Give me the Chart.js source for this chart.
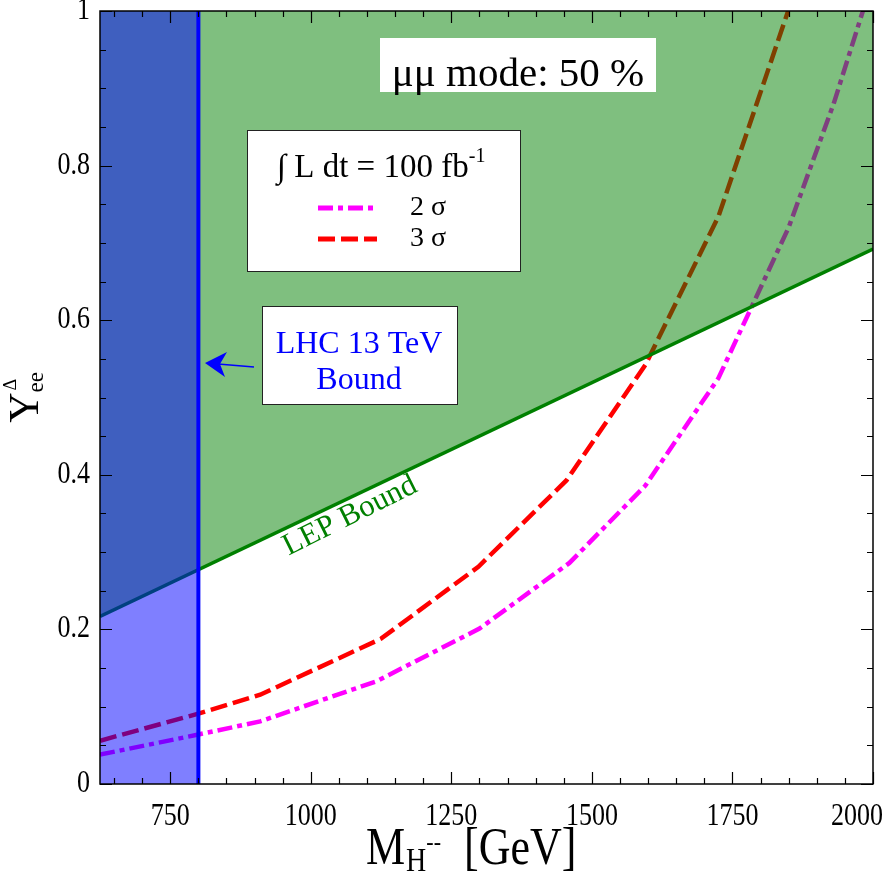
<!DOCTYPE html>
<html><head><meta charset="utf-8">
<script src="https://cdn.jsdelivr.net/npm/chart.js@4.4.1/dist/chart.umd.min.js"></script>
<style>html,body{margin:0;padding:0;background:#fff}</style>
</head><body>
<canvas id="c" width="886" height="886"></canvas>
<script>
// ---------- data ----------
const xMin = 625, xMax = 2000, yMin = 0, yMax = 1;
const xTickValues = [750, 1000, 1250, 1500, 1750, 2000];
const xTickLabels = ['750', '1000', '1250', '1500', '1750', '2000'];
const yTickValues = [0, 0.2, 0.4, 0.6, 0.8, 1];
const yTickLabels = ['0', '0.2', '0.4', '0.6', '0.8', '1'];

const mass3sigma = [625, 800, 910, 1125, 1298, 1455, 1595, 1725, 1849];
const yee3sigma  = [0.056, 0.091, 0.1155, 0.188, 0.281, 0.393, 0.542, 0.734, 1.0];

const mass2sigma = [625, 800, 910, 1117, 1300, 1460, 1595, 1725, 1850, 1930, 1982];
const yee2sigma  = [0.038, 0.064, 0.081, 0.133, 0.201, 0.286, 0.386, 0.525, 0.72, 0.88, 1.0];

const lepMass = [625, 2000];
const lepYee  = [0.2168, 0.692];

const lhcBoundMass = 800;
const lhcRegionMass = [625, 800];
const lhcRegionTop  = [1, 1];

const FONT = "'Liberation Serif','Times New Roman',serif";
const STRETCH = 1.18;

function pts(xs, ys) { return xs.map((x, i) => ({ x: x, y: ys[i] })); }

const ds3 = { label: '3 σ', data: pts(mass3sigma, yee3sigma), borderColor: '#ff0000', borderWidth: 4.5,
  borderDash: [17, 6], fill: false, order: 5 };
const ds2 = { label: '2 σ', data: pts(mass2sigma, yee2sigma), borderColor: '#ff00ff', borderWidth: 4.5,
  borderDash: [15, 5, 5, 5], fill: false, order: 6 };
const dsLep = { label: 'LEP', data: pts(lepMass, lepYee), borderColor: '#008000', borderWidth: 3.5,
  backgroundColor: 'rgba(0,128,0,0.5)', fill: 'end', order: 3 };
const dsLhcRegion = { label: 'LHC region', data: pts(lhcRegionMass, lhcRegionTop), borderWidth: 0,
  borderColor: 'rgba(0,0,0,0)', backgroundColor: 'rgba(0,0,255,0.5)', fill: 'origin', order: 2 };
const dsLhc = { label: 'LHC', data: pts([lhcBoundMass, lhcBoundMass], [yMin, yMax]), borderColor: '#0000ff',
  borderWidth: 4, fill: false, order: 1 };

// ---------- drawing helpers ----------
function stretchedText(ctx, txt, x, y, sy) {
  ctx.save(); ctx.translate(x, y); ctx.scale(1, sy); ctx.fillText(txt, 0, 0); ctx.restore();
}
function drawXTitle(ctx, startX, base) {
  const big = 44, sub = 28, sup = 22;
  ctx.save();
  ctx.translate(startX, base); ctx.scale(1, STRETCH);
  ctx.textBaseline = 'alphabetic'; ctx.textAlign = 'left'; ctx.fillStyle = '#000';
  let x = 0;
  ctx.font = big + 'px ' + FONT; ctx.fillText('M', x, 0); x += ctx.measureText('M').width + 1;
  ctx.font = sub + 'px ' + FONT; ctx.fillText('H', x, 6); x += ctx.measureText('H').width;
  ctx.font = sup + 'px ' + FONT; ctx.fillText('--', x, -12); x += ctx.measureText('--').width + 12;
  ctx.font = big + 'px ' + FONT; ctx.fillText(' [GeV]', x, 0);
  ctx.restore();
}
function drawYTitle(ctx, bx, cy) {
  const big = 42, sub = 23, sup = 18;
  ctx.save();
  ctx.translate(bx, cy); ctx.rotate(-Math.PI / 2);
  ctx.textBaseline = 'alphabetic'; ctx.textAlign = 'left'; ctx.fillStyle = '#000';
  ctx.font = big + 'px ' + FONT; const wY = ctx.measureText('Y').width;
  ctx.font = sub + 'px ' + FONT; const wE = ctx.measureText('ee').width;
  let x = -(wY + wE) / 2;
  ctx.font = big + 'px ' + FONT; ctx.fillText('Y', x, 0); x += wY;
  ctx.font = sub + 'px ' + FONT; ctx.fillText('ee', x, 5);
  ctx.font = sup + 'px ' + FONT; ctx.fillText('Δ', x + 2, -22);
  ctx.restore();
}

const decor = {
  id: 'decor',
  beforeDraw(chart) {
    const ctx = chart.ctx; ctx.save(); ctx.fillStyle = '#fff';
    ctx.fillRect(0, 0, chart.width, chart.height); ctx.restore();
  },
  afterDraw(chart) {
    const ctx = chart.ctx, a = chart.chartArea;
    const xs = chart.scales.x, ys = chart.scales.y;
    ctx.save();
    // ticks on all four sides (inward)
    ctx.strokeStyle = '#000'; ctx.lineWidth = 1.2;
    ctx.beginPath();
    for (let v = 650; v <= xMax; v += 50) {
      const px = Math.round(xs.getPixelForValue(v)) + 0.5;
      const len = (v % 250 === 0) ? 12 : 6;
      ctx.moveTo(px, a.bottom); ctx.lineTo(px, a.bottom - len);
      ctx.moveTo(px, a.top); ctx.lineTo(px, a.top + len);
    }
    for (let i = 0; i <= 20; i++) {
      const py = Math.round(ys.getPixelForValue(i * 0.05)) + 0.5;
      const len = (i % 4 === 0) ? 12 : 6;
      ctx.moveTo(a.left, py); ctx.lineTo(a.left + len, py);
      ctx.moveTo(a.right, py); ctx.lineTo(a.right - len, py);
    }
    ctx.stroke();
    ctx.lineWidth = 1.5;
    ctx.strokeRect(a.left, a.top, a.right - a.left, a.bottom - a.top);

    // tick labels
    ctx.fillStyle = '#000';
    ctx.font = '26px ' + FONT;
    ctx.textAlign = 'right'; ctx.textBaseline = 'middle';
    yTickValues.forEach((v, i) => stretchedText(ctx, yTickLabels[i], a.left - 10, ys.getPixelForValue(v), STRETCH));
    ctx.textAlign = 'center'; ctx.textBaseline = 'alphabetic';
    xTickValues.forEach((v, i) => {
      const w = ctx.measureText(xTickLabels[i]).width;
      let px = xs.getPixelForValue(v);
      px = Math.min(px, chart.width - 3 - w / 2);
      stretchedText(ctx, xTickLabels[i], px, a.bottom + 41, STRETCH);
    });

    // axis titles
    drawXTitle(ctx, 366, 864);
    drawYTitle(ctx, 38, (a.top + a.bottom) / 2);

    // "mu mu mode" box
    ctx.fillStyle = '#fff'; ctx.fillRect(380, 38, 276, 54);
    ctx.fillStyle = '#000'; ctx.font = '41px ' + FONT;
    ctx.textAlign = 'center'; ctx.textBaseline = 'alphabetic';
    ctx.fillText('μμ mode: 50 %', 518, 86);

    // legend box
    ctx.fillStyle = '#fff'; ctx.fillRect(247.5, 130.5, 273, 141);
    ctx.strokeStyle = '#222'; ctx.lineWidth = 1; ctx.strokeRect(247.5, 130.5, 273, 141);
    ctx.fillStyle = '#000'; ctx.textAlign = 'left';
    ctx.font = '33px ' + FONT;
    let lx = 277;
    ctx.fillText('∫', lx, 177); lx += ctx.measureText('∫').width;
    const s1 = ' L dt = 100 fb';
    ctx.fillText(s1, lx, 177); lx += ctx.measureText(s1).width;
    ctx.font = '20px ' + FONT; ctx.fillText('-1', lx, 162);
    [[ds2, 208], [ds3, 239]].forEach(([d, y]) => {
      ctx.save();
      ctx.strokeStyle = d.borderColor; ctx.lineWidth = 5; ctx.setLineDash(d.borderDash);
      ctx.beginPath(); ctx.moveTo(318, y); ctx.lineTo(377, y); ctx.stroke();
      ctx.restore();
      ctx.fillStyle = '#000'; ctx.font = '28px ' + FONT; ctx.textBaseline = 'middle';
      ctx.fillText(d.label, 410, y);
    });

    // LHC box + arrow
    ctx.fillStyle = '#fff'; ctx.fillRect(262.5, 306.5, 195, 98);
    ctx.strokeStyle = '#222'; ctx.lineWidth = 1; ctx.strokeRect(262.5, 306.5, 195, 98);
    ctx.fillStyle = '#0000ff'; ctx.font = '32px ' + FONT;
    ctx.textAlign = 'center'; ctx.textBaseline = 'alphabetic';
    ctx.fillText('LHC 13 TeV', 359, 353);
    ctx.fillText('Bound', 359, 389);
    ctx.strokeStyle = '#0000ff'; ctx.lineWidth = 1.3;
    ctx.beginPath(); ctx.moveTo(254, 367); ctx.lineTo(218, 364); ctx.stroke();
    ctx.beginPath();
    ctx.moveTo(205, 363); ctx.lineTo(227, 352); ctx.lineTo(220, 364); ctx.lineTo(225, 377); ctx.closePath();
    ctx.fill();

    // LEP Bound label
    ctx.save();
    ctx.translate(350, 516); ctx.rotate(-26.5 * Math.PI / 180);
    ctx.fillStyle = '#008000'; ctx.font = '31px ' + FONT;
    ctx.textAlign = 'center'; ctx.textBaseline = 'middle';
    ctx.fillText('LEP Bound', 0, 0);
    ctx.restore();

    ctx.restore();
  }
};

new Chart(document.getElementById('c'), {
  type: 'line',
  data: { datasets: [ds3, ds2, dsLep, dsLhcRegion, dsLhc] },
  options: {
    responsive: false, animation: false, devicePixelRatio: 1,
    layout: { padding: { top: 11, right: 13, left: 0, bottom: 0 } },
    elements: { point: { radius: 0, hoverRadius: 0 }, line: { tension: 0 } },
    plugins: { legend: { display: false }, tooltip: { enabled: false } },
    events: [],
    scales: {
      x: { type: 'linear', min: xMin, max: xMax,
        ticks: { display: false }, grid: { display: false }, border: { display: false },
        afterFit: s => { s.height = 102; s.paddingLeft = 0; s.paddingRight = 0; } },
      y: { type: 'linear', min: yMin, max: yMax,
        ticks: { display: false }, grid: { display: false }, border: { display: false },
        afterFit: s => { s.width = 100; s.paddingTop = 0; s.paddingBottom = 0; } }
    }
  },
  plugins: [decor]
});
</script>
</body></html>
